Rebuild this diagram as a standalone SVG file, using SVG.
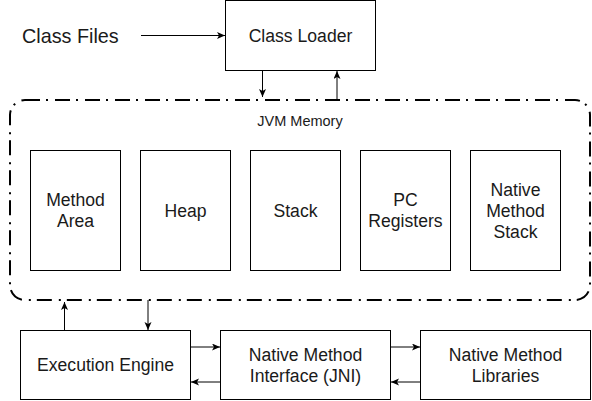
<svg xmlns="http://www.w3.org/2000/svg" width="592" height="401" viewBox="0 0 592 401">
<defs>
<style>
.box{fill:#fff;stroke:#000;stroke-width:1}
.lbl{font-family:"Liberation Sans",Arial,sans-serif;font-size:17.6px;fill:#1a1a1a;text-anchor:middle}
.conn{stroke:#000;stroke-width:1;fill:none}
.mem{fill:none;stroke:#000;stroke-width:2;stroke-dasharray:15 6 2 7}
</style>
<marker id="ah" markerUnits="userSpaceOnUse" markerWidth="10" markerHeight="8" refX="8" refY="3.5" orient="auto">
<path d="M0,0 L8,3.5 L0,7 L2,3.5 z" fill="#000"/>
</marker>
</defs>
<rect width="592" height="401" fill="#fff"/>

<g id="class-files">
<text x="22" y="43" style="font-family:'Liberation Sans',Arial,sans-serif;font-size:19.8px;fill:#1a1a1a">Class Files</text>
</g>

<g id="class-loader">
<rect class="box" x="225.5" y="0.5" width="150" height="70"/>
<text class="lbl" x="300.5" y="42">Class Loader</text>
</g>

<g id="jvm-memory">
<rect class="mem" x="10" y="100" width="580" height="200" rx="15" ry="15"/>
<text x="300" y="126" style="font-family:'Liberation Sans',Arial,sans-serif;font-size:14.5px;fill:#1a1a1a;text-anchor:middle">JVM Memory</text>
</g>

<g id="method-area">
<rect class="box" x="30.5" y="150.5" width="90" height="120"/>
<text class="lbl" x="75.5" y="206">Method</text>
<text class="lbl" x="75.5" y="227">Area</text>
</g>

<g id="heap">
<rect class="box" x="140.5" y="150.5" width="90" height="120"/>
<text class="lbl" x="185.5" y="216.5">Heap</text>
</g>

<g id="stack">
<rect class="box" x="250.5" y="150.5" width="90" height="120"/>
<text class="lbl" x="295.5" y="216.5">Stack</text>
</g>

<g id="pc-registers">
<rect class="box" x="360.5" y="150.5" width="90" height="120"/>
<text class="lbl" x="405.5" y="206">PC</text>
<text class="lbl" x="405.5" y="227">Registers</text>
</g>

<g id="native-method-stack">
<rect class="box" x="470.5" y="150.5" width="90" height="120"/>
<text class="lbl" x="515.5" y="195.5">Native</text>
<text class="lbl" x="515.5" y="216.5">Method</text>
<text class="lbl" x="515.5" y="237.5">Stack</text>
</g>

<g id="execution-engine">
<rect class="box" x="20.5" y="330.5" width="170" height="69"/>
<text class="lbl" x="105.5" y="371">Execution Engine</text>
</g>

<g id="jni">
<rect class="box" x="220.5" y="330.5" width="170" height="69"/>
<text class="lbl" x="305.5" y="360.5">Native Method</text>
<text class="lbl" x="305.5" y="381.5">Interface (JNI)</text>
</g>

<g id="native-libraries">
<rect class="box" x="420.5" y="330.5" width="170" height="69"/>
<text class="lbl" x="505.5" y="360.5">Native Method</text>
<text class="lbl" x="505.5" y="381.5">Libraries</text>
</g>

<g id="connectors">
<line class="conn" x1="141" y1="35.5" x2="225" y2="35.5" marker-end="url(#ah)"/>
<line class="conn" x1="262.5" y1="71" x2="262.5" y2="97" marker-end="url(#ah)"/>
<line class="conn" x1="337" y1="100" x2="337" y2="71" marker-end="url(#ah)"/>
<line class="conn" x1="64.5" y1="330" x2="64.5" y2="302" marker-end="url(#ah)"/>
<line class="conn" x1="148" y1="300" x2="148" y2="330" marker-end="url(#ah)"/>
<line class="conn" x1="191" y1="347" x2="220" y2="347" marker-end="url(#ah)"/>
<line class="conn" x1="220" y1="382" x2="191" y2="382" marker-end="url(#ah)"/>
<line class="conn" x1="391" y1="347" x2="420" y2="347" marker-end="url(#ah)"/>
<line class="conn" x1="420" y1="382" x2="391" y2="382" marker-end="url(#ah)"/>
</g>
</svg>
